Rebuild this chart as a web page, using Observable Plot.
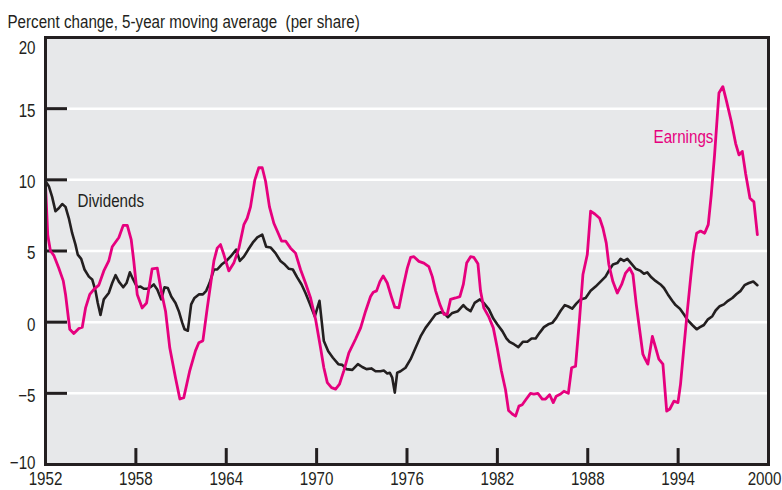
<!DOCTYPE html>
<html>
<head>
<meta charset="utf-8">
<script src="https://cdn.jsdelivr.net/npm/d3@7"></script>
<script src="https://cdn.jsdelivr.net/npm/@observablehq/plot@0.6"></script>
<style>
  html, body { margin: 0; padding: 0; background: #fff; }
</style>
</head>
<body>
<div id="chart"></div>
<script>
const titleText = "Percent change, 5-year moving average\u00a0 (per share)";
const yTicks = [-10, -5, 0, 5, 10, 15, 20];
const yTopTick = [20];
const yBottomTick = [-10];
const yMidTicks = [-5, 0, 5, 10, 15];
const yGrid = [-5, 0, 5, 10, 15];
const xTicks = [1952, 1958, 1964, 1970, 1976, 1982, 1988, 1994, 2000];
const xLabelTicks = [1952, 1958, 1964, 1970, 1976, 1982, 1988, 1994];
const xLastTick = [2000];
const xInnerTicks = [1958, 1964, 1970, 1976, 1982, 1988, 1994];

const earnYears = [1952.00,1952.15,1952.33,1952.55,1952.88,1953.18,1953.33,1953.61,1953.88,1954.21,1954.44,1954.66,1954.94,1955.21,1955.54,1955.87,1956.20,1956.43,1956.87,1957.16,1957.43,1957.69,1957.86,1958.09,1958.42,1958.71,1959.08,1959.42,1959.68,1959.97,1960.25,1960.63,1960.92,1961.18,1961.58,1961.96,1962.18,1962.45,1962.74,1962.96,1963.18,1963.40,1963.62,1963.84,1964.17,1964.50,1964.84,1965.17,1965.39,1965.61,1965.90,1966.16,1966.39,1966.61,1966.87,1967.16,1967.45,1967.67,1967.94,1968.27,1968.60,1968.93,1969.26,1969.60,1969.93,1970.26,1970.48,1970.71,1970.99,1971.26,1971.52,1971.81,1972.14,1972.58,1972.92,1973.25,1973.58,1973.76,1973.98,1974.20,1974.42,1974.69,1974.96,1975.19,1975.46,1975.75,1976.02,1976.24,1976.46,1976.79,1977.12,1977.45,1977.68,1977.90,1978.18,1978.45,1978.67,1978.89,1979.22,1979.51,1979.74,1979.96,1980.22,1980.44,1980.71,1980.88,1981.10,1981.44,1981.73,1981.99,1982.26,1982.54,1982.74,1982.99,1983.21,1983.43,1983.65,1983.92,1984.20,1984.42,1984.69,1984.98,1985.20,1985.47,1985.71,1985.91,1986.20,1986.42,1986.71,1986.93,1987.19,1987.46,1987.68,1987.97,1988.19,1988.47,1988.79,1989.01,1989.23,1989.40,1989.67,1989.96,1990.25,1990.51,1990.78,1991.00,1991.22,1991.44,1991.66,1991.77,1991.99,1992.29,1992.51,1992.72,1992.99,1993.24,1993.45,1993.72,1993.99,1994.16,1994.38,1994.61,1994.83,1995.01,1995.23,1995.49,1995.76,1996.00,1996.20,1996.42,1996.71,1996.97,1997.22,1997.53,1997.82,1998.04,1998.26,1998.48,1998.77,1999.03,1999.26];
const earnValues = [9.65,6.1,5.0,4.7,3.8,2.9,1.95,-0.5,-0.8,-0.45,-0.35,1.0,1.95,2.3,2.6,3.6,4.3,5.3,5.95,6.8,6.8,5.8,4.3,1.95,1.0,1.35,3.75,3.8,2.2,0.77,-1.8,-3.9,-5.4,-5.3,-3.4,-2.0,-1.45,-1.3,1.0,2.65,4.3,5.2,5.45,4.75,3.6,4.15,5.2,6.85,7.3,8.1,10.0,10.85,10.85,9.9,8.1,6.95,6.25,5.7,5.7,5.2,4.85,3.7,2.75,1.7,0.2,-1.8,-3.2,-4.25,-4.6,-4.7,-4.35,-3.4,-2.15,-1.2,-0.4,0.77,1.8,2.1,2.2,2.85,3.25,2.75,1.8,1.05,1.0,2.5,3.8,4.55,4.6,4.27,4.15,3.9,3.2,2.2,1.25,0.55,0.55,1.6,1.7,1.8,2.65,4.15,4.6,4.55,4.1,2.2,1.0,0.35,-0.4,-1.8,-3.4,-4.75,-6.2,-6.45,-6.6,-5.9,-5.8,-5.4,-5.0,-5.05,-5.0,-5.4,-5.4,-5.1,-5.65,-5.2,-5.05,-4.85,-5.0,-3.2,-3.1,0.3,3.35,4.75,7.8,7.6,7.3,6.6,5.55,4.05,2.85,2.05,2.65,3.45,3.8,3.35,1.25,-0.5,-2.25,-2.5,-2.95,-1.0,-1.8,-2.6,-2.95,-6.25,-6.1,-5.55,-5.65,-4.35,-1.8,0.77,3.1,4.85,6.25,6.4,6.25,6.85,8.95,11.75,16.1,16.55,15.5,14.1,12.55,11.75,12.0,10.45,8.7,8.45,6.15];

const divYears = [1952.00,1952.22,1952.44,1952.66,1952.88,1953.11,1953.33,1953.55,1953.77,1953.99,1954.14,1954.37,1954.59,1954.88,1955.10,1955.32,1955.47,1955.65,1955.87,1956.20,1956.43,1956.65,1956.87,1957.16,1957.38,1957.60,1957.82,1958.09,1958.31,1958.53,1958.79,1959.02,1959.19,1959.42,1959.68,1959.90,1960.12,1960.35,1960.63,1960.85,1961.08,1961.23,1961.45,1961.67,1961.89,1962.18,1962.45,1962.67,1962.89,1963.18,1963.40,1963.69,1964.00,1964.28,1964.66,1964.90,1965.17,1965.46,1965.77,1966.06,1966.39,1966.65,1966.94,1967.27,1967.60,1967.89,1968.16,1968.42,1968.71,1969.00,1969.26,1969.53,1969.88,1970.19,1970.48,1970.77,1971.08,1971.44,1971.70,1971.97,1972.37,1972.74,1973.03,1973.31,1973.63,1973.91,1974.24,1974.46,1974.69,1974.86,1975.02,1975.19,1975.35,1975.57,1975.90,1976.24,1976.57,1976.90,1977.23,1977.56,1977.90,1978.23,1978.45,1978.71,1979.01,1979.38,1979.74,1979.96,1980.22,1980.49,1980.84,1981.10,1981.44,1981.73,1981.99,1982.33,1982.61,1982.81,1983.10,1983.39,1983.69,1983.99,1984.27,1984.54,1984.80,1985.09,1985.38,1985.65,1985.91,1986.20,1986.48,1986.71,1986.97,1987.24,1987.52,1987.86,1988.19,1988.52,1988.85,1989.18,1989.45,1989.67,1989.96,1990.18,1990.40,1990.63,1990.91,1991.18,1991.51,1991.73,1991.95,1992.22,1992.50,1992.83,1993.06,1993.32,1993.61,1993.83,1994.12,1994.38,1994.65,1994.94,1995.23,1995.45,1995.71,1995.98,1996.27,1996.49,1996.76,1997.04,1997.31,1997.60,1997.88,1998.15,1998.41,1998.70,1998.99,1999.26];
const divValues = [9.9,9.55,8.8,7.8,8.0,8.3,8.1,7.3,6.25,5.45,4.75,4.45,3.7,3.2,3.0,2.2,1.35,0.5,1.6,2.05,2.75,3.3,2.85,2.45,2.75,3.5,3.0,2.45,2.5,2.35,2.35,2.5,2.65,2.3,1.6,2.45,2.4,1.8,1.35,0.77,-0.05,-0.5,-0.6,1.25,1.7,1.95,1.95,2.2,2.75,3.7,3.7,4.05,4.3,4.6,5.1,4.3,4.6,5.1,5.6,5.95,6.15,5.3,5.25,4.85,4.3,4.05,3.75,3.7,3.15,2.65,2.05,1.35,0.4,1.5,-1.33,-2.05,-2.5,-2.95,-3.0,-3.3,-3.35,-2.95,-3.15,-3.3,-3.25,-3.45,-3.45,-3.4,-3.6,-3.55,-3.9,-4.95,-3.55,-3.45,-3.2,-2.6,-1.8,-1.0,-0.4,0.07,0.55,0.7,0.65,0.35,0.65,0.77,1.2,0.95,0.77,1.35,1.6,1.35,0.9,0.25,-0.15,-0.63,-1.15,-1.38,-1.55,-1.75,-1.38,-1.38,-1.15,-1.15,-0.75,-0.35,-0.15,-0.05,0.3,0.8,1.2,1.1,0.95,1.3,1.6,1.7,2.2,2.5,2.85,3.2,3.7,4.05,4.15,4.45,4.3,4.45,4.1,3.75,3.6,3.4,3.5,3.15,2.9,2.65,2.4,1.95,1.5,1.2,0.95,0.55,0.12,-0.2,-0.5,-0.35,-0.2,0.2,0.42,0.82,1.12,1.25,1.5,1.7,1.98,2.2,2.6,2.75,2.85,2.6];

const seriesLabels = [
  {name: "Dividends", year: 1954.12, value: 8.48, color: "#231f20"},
  {name: "Earnings", year: 1992.37, value: 13.03, color: "#e6007e"}
];

const earnings = earnYears.map((y, i) => ({year: y, value: earnValues[i]}));
const dividends = divYears.map((y, i) => ({year: y, value: divValues[i]}));

const FONT = "'Liberation Sans', Arial, Helvetica, sans-serif";
const FS = 18.5;
const NARROW = 0.82;
const INK = "#231f20";
const PINK = "#e6007e";

const yAxisOpts = {tickSize: 0, tickPadding: 10, fontSize: FS, fill: INK, label: null};
const xAxisOpts = {tickSize: 0, tickPadding: 7, fontSize: FS, fill: INK, tickFormat: d => String(d), label: null};

const chart = Plot.plot({
  width: 782,
  height: 490,
  marginLeft: 45,
  marginRight: 14,
  marginTop: 37,
  marginBottom: 26,
  style: {fontFamily: FONT, fontSize: FS + "px", color: INK, background: "#fff"},
  x: {domain: [xTicks[0], xTicks[xTicks.length - 1]], ticks: xTicks, tickFormat: d => String(d), label: null},
  y: {domain: [yTicks[0], yTicks[yTicks.length - 1]], ticks: yTicks, label: null},
  marks: [
    Plot.frame({fill: "#e7e8ea", stroke: null}),
    Plot.ruleY(yGrid, {x1: 1953.46, x2: 2000, stroke: "#ffffff", strokeWidth: 2.5}),
    Plot.ruleY(yGrid, {x1: 1952, x2: 1953.46, stroke: INK, strokeWidth: 3}),
    Plot.ruleX(xInnerTicks, {y1: -10, y2: -8.88, stroke: INK, strokeWidth: 3}),
    Plot.line(dividends, {x: "year", y: "value", stroke: INK, strokeWidth: 2.6}),
    Plot.line(earnings, {x: "year", y: "value", stroke: PINK, strokeWidth: 2.8}),
    Plot.text(seriesLabels, {x: "year", y: "value", text: "name", fill: "color", textAnchor: "start", fontSize: FS}),
    Plot.frame({stroke: INK, strokeWidth: 3}),
    Plot.axisY(yMidTicks, {...yAxisOpts, dy: 2.5}),
    Plot.axisY(yTopTick, {...yAxisOpts, dy: 11}),
    Plot.axisY(yBottomTick, {...yAxisOpts, dy: -1}),
    Plot.axisX(xLabelTicks, xAxisOpts),
    Plot.axisX(xLastTick, {...xAxisOpts, dx: -4}),
    Plot.text([titleText], {frameAnchor: "top-left", dx: -38, dy: -15, textAnchor: "start", lineAnchor: "middle", fontSize: FS, fill: INK})
  ]
});

// Condense the glyphs horizontally (the original uses a narrow typeface)
chart.querySelectorAll("text").forEach(t => {
  const tr = t.getAttribute("transform") || "";
  t.setAttribute("transform", (tr + ` scale(${NARROW},1)`).trim());
});

document.getElementById("chart").appendChild(chart);
</script>
</body>
</html>
